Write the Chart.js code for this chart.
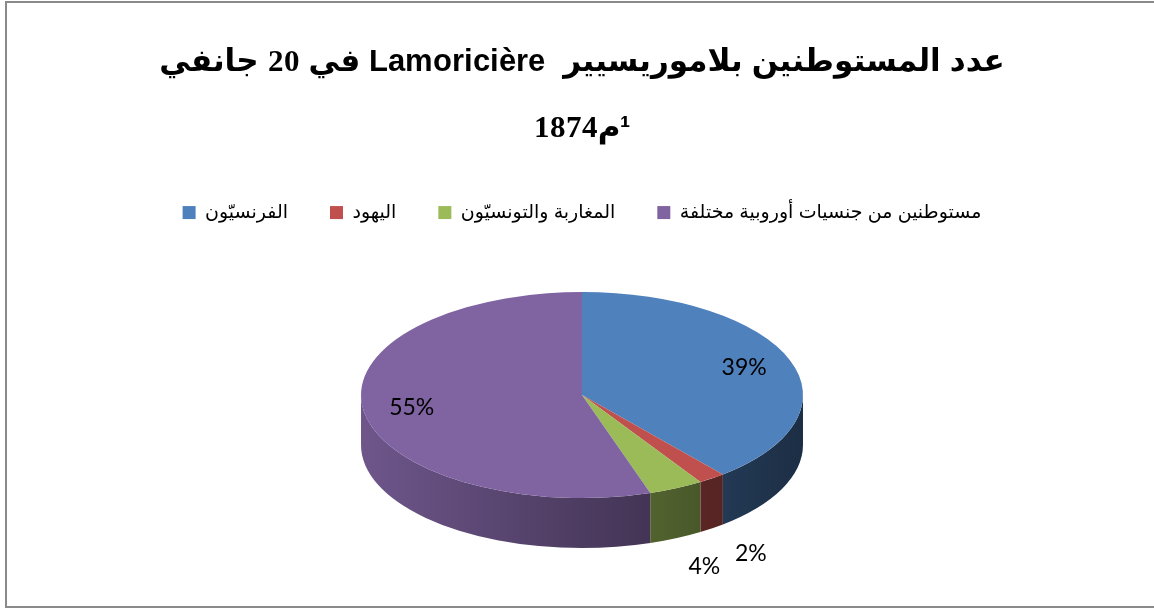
<!DOCTYPE html>
<html><head><meta charset="utf-8">
<script src="https://cdn.jsdelivr.net/npm/chart.js@4.4.1/dist/chart.umd.min.js"></script>
<style>
@font-face { font-family: 'TitleMix'; font-weight: bold; src: local('Liberation Serif Bold'), local('LiberationSerif-Bold'); unicode-range: U+0030-0039; }
@font-face { font-family: 'TitleMix'; font-weight: bold; src: local('Liberation Sans Bold'), local('LiberationSans-Bold'); unicode-range: U+0000-002F, U+003A-00FF; }
html,body{margin:0;padding:0;background:#fff;overflow:hidden}
#wrap{width:1154px;height:610px;position:relative;background:#fff}
canvas{direction:rtl}
</style></head>
<body><div id="wrap"><canvas id="c" width="1154" height="610"></canvas></div>
<script>
// ---- data ----
const titleLines = ['عدد المستوطنين بلاموريسيير  Lamoricière في 20 جانفي', '¹م1874'];
const categories = ['الفرنسيّون', 'اليهود', 'المغاربة والتونسيّون', 'مستوطنين من جنسيات أوروبية مختلفة'];
const shares = [39, 2, 4, 55];
const colors = ['#4F81BD', '#C0504D', '#9BBB59', '#8064A2'];

// ---- 3D tilt style (relative to the pie radius) ----
const TILT = { rx: 1.356, ry: 0.632, depth: 0.307 };

function hexToRgb(h) {
  const n = parseInt(h.slice(1), 16);
  return [(n >> 16) & 255, (n >> 8) & 255, n & 255];
}
function shade(h, f) {
  const [r, g, b] = hexToRgb(h);
  return 'rgb(' + Math.round(r * f) + ',' + Math.round(g * f) + ',' + Math.round(b * f) + ')';
}
function geom(chart) {
  const meta = chart.getDatasetMeta(0);
  const a0 = meta.data[0];
  const r = a0.outerRadius;
  return { meta, cx: a0.x, cy: a0.y, r, rx: r * TILT.rx, ry: r * TILT.ry, depth: r * TILT.depth };
}

const borderPlugin = {
  id: 'frame',
  beforeDraw(chart) {
    const ctx = chart.ctx;
    ctx.save();
    ctx.fillStyle = '#fff';
    ctx.fillRect(0, 0, chart.width, chart.height);
    ctx.strokeStyle = '#8a8a8a';
    ctx.lineWidth = 2;
    ctx.strokeRect(6, 2, chart.width + 10, 605);
    ctx.restore();
  }
};

const pie3dPlugin = {
  id: 'pie3d',
  beforeDatasetsDraw(chart) {
    const ctx = chart.ctx;
    const g = geom(chart);
    const { cx, cy, rx, ry, depth } = g;
    g.meta.data.forEach((arc, i) => {
      const ranges = [[0, Math.PI], [2 * Math.PI, 3 * Math.PI]];
      ranges.forEach(([lo, hi]) => {
        const a1 = Math.max(arc.startAngle, lo);
        const a2 = Math.min(arc.endAngle, hi);
        if (a2 <= a1) return;
        const grad = ctx.createLinearGradient(cx - rx, 0, cx + rx, 0);
        grad.addColorStop(0, shade(colors[i], 0.86));
        grad.addColorStop(0.5, shade(colors[i], 0.6));
        grad.addColorStop(1, shade(colors[i], 0.36));
        ctx.save();
        ctx.beginPath();
        ctx.ellipse(cx, cy, rx, ry, 0, a1, a2, false);
        ctx.lineTo(cx + rx * Math.cos(a2), cy + depth + ry * Math.sin(a2));
        ctx.ellipse(cx, cy + depth, rx, ry, 0, a2, a1, true);
        ctx.closePath();
        ctx.fillStyle = grad;
        ctx.fill();
        ctx.restore();
      });
    });
    ctx.save();
    ctx.translate(cx, cy);
    ctx.scale(TILT.rx, TILT.ry);
    ctx.translate(-cx, -cy);
  },
  afterDatasetsDraw(chart) {
    const ctx = chart.ctx;
    ctx.restore();
    const { meta, cx, cy, rx, ry, depth } = geom(chart);
    ctx.save();
    ctx.font = '23px Lato, "Open Sans", sans-serif';
    ctx.fillStyle = '#000';
    ctx.textAlign = 'center';
    ctx.textBaseline = 'middle';
    meta.data.forEach((arc, i) => {
      const mid = (arc.startAngle + arc.endAngle) / 2;
      const frac = (arc.endAngle - arc.startAngle) / (2 * Math.PI);
      let f = 0.78, dy = 0;
      if (frac < 0.1) { f = 1.3; dy = depth; }
      const x = cx + rx * f * Math.cos(mid);
      const y = cy + ry * f * Math.sin(mid) + dy;
      ctx.fillText(shares[i] + '%', x, y);
    });
    ctx.restore();
  }
};

function build() {
  new Chart(document.getElementById('c'), {
    type: 'pie',
    data: {
      labels: categories,
      datasets: [{ data: shares, backgroundColor: colors, borderWidth: 0, clip: false, hoverOffset: 0 }]
    },
    options: {
      responsive: false,
      animation: false,
      devicePixelRatio: 1,
      layout: { padding: { top: 0, bottom: 52, left: 10, right: 0 } },
      events: [],
      plugins: {
        tooltip: { enabled: false },
        title: {
          display: true,
          text: titleLines,
          color: '#000',
          font: { family: 'TitleMix, "DejaVu Sans", sans-serif', size: 31, weight: 'bold', lineHeight: 2.13 },
          padding: { top: 29, bottom: 0 }
        },
        legend: {
          display: true,
          position: 'top',
          labels: {
            color: '#000',
            font: { family: '"Liberation Sans", "DejaVu Sans", sans-serif', size: 19 },
            boxWidth: 13,
            boxHeight: 13,
            padding: 42
          }
        }
      }
    },
    plugins: [borderPlugin, pie3dPlugin]
  });
}

const loads = [document.fonts.load('bold 31px TitleMix', '20 Lamoricière'), document.fonts.load('23px Lato', '39%')];
Promise.race([Promise.all(loads), new Promise(r => setTimeout(r, 1500))]).then(build, build);
</script>
</body></html>
